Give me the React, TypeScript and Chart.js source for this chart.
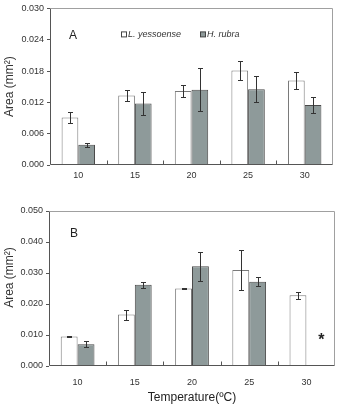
import React, { useEffect, useRef } from "react";
import { Chart, registerables } from "chart.js";

Chart.register(...registerables);

// ---------- data ----------
const categories = ["10", "15", "20", "25", "30"];
const seriesNames = ["L. yessoense", "H. rubra"];

const areaA_yessoense = [0.0091, 0.0133, 0.0142, 0.0181, 0.0162];
const errA_yessoense = [0.0011, 0.001, 0.0011, 0.0018, 0.0017];
const areaA_rubra = [0.0039, 0.0118, 0.0144, 0.0145, 0.0115];
const errA_rubra = [0.0004, 0.0022, 0.0041, 0.0025, 0.0016];

const areaB_yessoense = [0.0095, 0.0166, 0.025, 0.031, 0.0228];
const errB_yessoense = [0.0003, 0.0016, 0.0002, 0.0065, 0.0011];
const areaB_rubra: (number | null)[] = [0.007, 0.0262, 0.0322, 0.0272, null];
const errB_rubra: (number | null)[] = [0.001, 0.001, 0.0047, 0.0014, null];

const yMaxA = 0.03;
const yStepA = 0.006;
const yMaxB = 0.05;
const yStepB = 0.01;

const yTitle = "Area (mm\u00B2)";
const xTitle = "Temperature(\u00BAC)";

const FONT = "'Liberation Sans', Arial, Helvetica, sans-serif";

const panelPlugin = {
  id: "panel",
  afterDatasetsDraw(chart: any, _args: any, opts: any) {
    const { ctx, chartArea: a } = chart;
    const xs = chart.scales.x;
    const ys = chart.scales.y;
    ctx.save();

    // error bars
    (opts.errors || []).forEach((errs: (number | null)[], di: number) => {
      const meta = chart.getDatasetMeta(di);
      const vals = chart.data.datasets[di].data;
      meta.data.forEach((bar: any, i: number) => {
        const v = vals[i];
        const e = errs[i];
        if (v == null || e == null) return;
        const xp = Math.round(bar.x) + 0.5;
        const yt = Math.round(ys.getPixelForValue(v + e)) + 0.5;
        const yb = Math.round(ys.getPixelForValue(v - e)) + 0.5;
        ctx.strokeStyle = "#333";
        ctx.lineWidth = 1;
        ctx.beginPath();
        ctx.moveTo(xp, yt);
        ctx.lineTo(xp, yb);
        ctx.moveTo(xp - 2.5, yt);
        ctx.lineTo(xp + 2.5, yt);
        ctx.moveTo(xp - 2.5, yb);
        ctx.lineTo(xp + 2.5, yb);
        ctx.stroke();
      });
    });

    // frame
    const L = Math.round(a.left) + 0.5;
    const R = Math.round(a.right) - 0.5;
    const T = Math.round(a.top) + 0.5;
    const B = Math.round(a.bottom) - 0.5;
    ctx.lineWidth = 1;
    ctx.strokeStyle = "#a0a0a0";
    ctx.beginPath();
    ctx.moveTo(L, T);
    ctx.lineTo(R, T);
    ctx.lineTo(R, B);
    ctx.stroke();
    ctx.strokeStyle = "#555";
    ctx.beginPath();
    ctx.moveTo(L, T);
    ctx.lineTo(L, B);
    ctx.lineTo(R, B);
    ctx.stroke();

    // inward x tick marks at category boundaries
    ctx.strokeStyle = "#555";
    ctx.beginPath();
    for (let i = 1; i < categories.length; i++) {
      const px = Math.round((xs.getPixelForValue(i - 1) + xs.getPixelForValue(i)) / 2) + 0.5;
      ctx.moveTo(px, B);
      ctx.lineTo(px, B - 4);
    }
    ctx.stroke();

    // y title
    ctx.fillStyle = "#333";
    ctx.font = `12px ${FONT}`;
    ctx.textAlign = "center";
    ctx.textBaseline = "middle";
    ctx.save();
    ctx.translate(opts.yTitleX, (a.top + a.bottom) / 2 + opts.yTitleShift);
    ctx.rotate(-Math.PI / 2);
    ctx.fillText(yTitle, 0, 0);
    ctx.restore();

    // panel letter
    ctx.font = `12px ${FONT}`;
    ctx.fillStyle = "#222";
    ctx.textAlign = "left";
    ctx.fillText(opts.letter, a.left + opts.letterDX, a.top + opts.letterDY);

    // legend
    if (opts.legend) {
      const lx = [a.left + 71, a.left + 150];
      const ly = a.top + 26;
      const fills = ["#ffffff", "#8e9a9a"];
      const strokes = ["#444", "#444"];
      ctx.font = `italic 9px ${FONT}`;
      seriesNames.forEach((name, i) => {
        ctx.fillStyle = fills[i];
        ctx.fillRect(lx[i] + 0.5, ly - 2.5, 5, 5);
        ctx.strokeStyle = strokes[i];
        ctx.strokeRect(lx[i] + 0.5, ly - 2.5, 5, 5);
        ctx.fillStyle = "#333";
        ctx.fillText(name, lx[i] + 7, ly + 0.5);
      });
    }

    // asterisk for missing bar
    if (opts.asterisk) {
      const cw = xs.getPixelForValue(1) - xs.getPixelForValue(0);
      const px = xs.getPixelForValue(categories.length - 1) + 0.26 * cw;
      const py = ys.getPixelForValue(0.0097) + 9;
      ctx.font = `bold 16px ${FONT}`;
      ctx.fillStyle = "#222";
      ctx.textAlign = "center";
      ctx.textBaseline = "alphabetic";
      ctx.fillText("*", px, py);
    }

    ctx.restore();
  },
};

function makeConfig(p: any) {
  return {
    type: "bar",
    data: {
      labels: categories,
      datasets: [
        {
          label: seriesNames[0],
          data: p.d0,
          backgroundColor: "#ffffff",
          borderColor: "#7a7a7a",
          borderWidth: 1,
          categoryPercentage: 0.59,
          barPercentage: 1,
        },
        {
          label: seriesNames[1],
          data: p.d1,
          backgroundColor: "#8e9a9a",
          borderColor: "#4a4a4a",
          borderWidth: 1,
          categoryPercentage: 0.59,
          barPercentage: 1,
        },
      ],
    },
    options: {
      responsive: false,
      animation: false,
      devicePixelRatio: 1,
      layout: { padding: { top: p.padTop, right: p.padRight, left: 0, bottom: 0 } },
      plugins: {
        legend: { display: false },
        tooltip: { enabled: false },
        panel: {
          errors: [p.e0, p.e1],
          letter: p.letter,
          letterDX: p.letterDX,
          letterDY: p.letterDY,
          legend: p.legend,
          asterisk: p.asterisk,
          yTitleX: 9.5,
          yTitleShift: p.yTitleShift,
        },
      },
      scales: {
        x: {
          grid: { display: false, drawTicks: false },
          border: { display: false },
          ticks: { color: "#333", font: { size: 9, family: FONT }, padding: p.xPad, maxRotation: 0 },
          title: {
            display: !!p.xTitle,
            text: p.xTitle || "",
            color: "#222",
            font: { size: 12, family: FONT },
            padding: { top: 0, bottom: 1 },
          },
          afterFit(s: any) {
            s.height = p.xHeight;
          },
        },
        y: {
          min: 0,
          max: p.yMax,
          ticks: {
            stepSize: p.yStep,
            color: "#333",
            font: { size: 9, family: FONT },
            padding: 3,
            callback: (v: any) => Number(v).toFixed(3),
          },
          grid: { drawOnChartArea: false, drawTicks: true, tickLength: 3, color: "#555" },
          border: { display: false },
          afterFit(s: any) {
            s.width = p.yWidth;
          },
        },
      },
    },
    plugins: [panelPlugin],
  };
}

function Panel({ params, width, height }: any) {
  const ref = useRef<HTMLCanvasElement | null>(null);
  useEffect(() => {
    if (!ref.current) return;
    const chart = new Chart(ref.current, makeConfig(params) as any);
    return () => chart.destroy();
  }, []);
  return <canvas ref={ref} width={width} height={height} style={{ display: "block", width, height }} />;
}

export default function App() {
  const top = {
    d0: areaA_yessoense,
    d1: areaA_rubra,
    e0: errA_yessoense,
    e1: errA_rubra,
    yMax: yMaxA,
    yStep: yStepA,
    padTop: 8,
    padRight: 4,
    yWidth: 50,
    xHeight: 25,
    xPad: 5,
    letter: "A",
    letterDX: 19,
    letterDY: 27,
    legend: true,
    asterisk: false,
    yTitleShift: 0,
    xTitle: "",
  };
  const bottom = {
    d0: areaB_yessoense,
    d1: areaB_rubra,
    e0: errB_yessoense,
    e1: errB_rubra,
    yMax: yMaxB,
    yStep: yStepB,
    padTop: 21,
    padRight: 2,
    yWidth: 49,
    xHeight: 40,
    xPad: 11,
    letter: "B",
    letterDX: 21,
    letterDY: 23,
    legend: false,
    asterisk: true,
    yTitleShift: -11,
    xTitle: xTitle,
  };
  return (
    <div style={{ position: "absolute", left: 0, top: 0, width: 337, height: 406, background: "#fff" }}>
      <Panel params={top} width={337} height={190} />
      <Panel params={bottom} width={337} height={216} />
    </div>
  );
}
